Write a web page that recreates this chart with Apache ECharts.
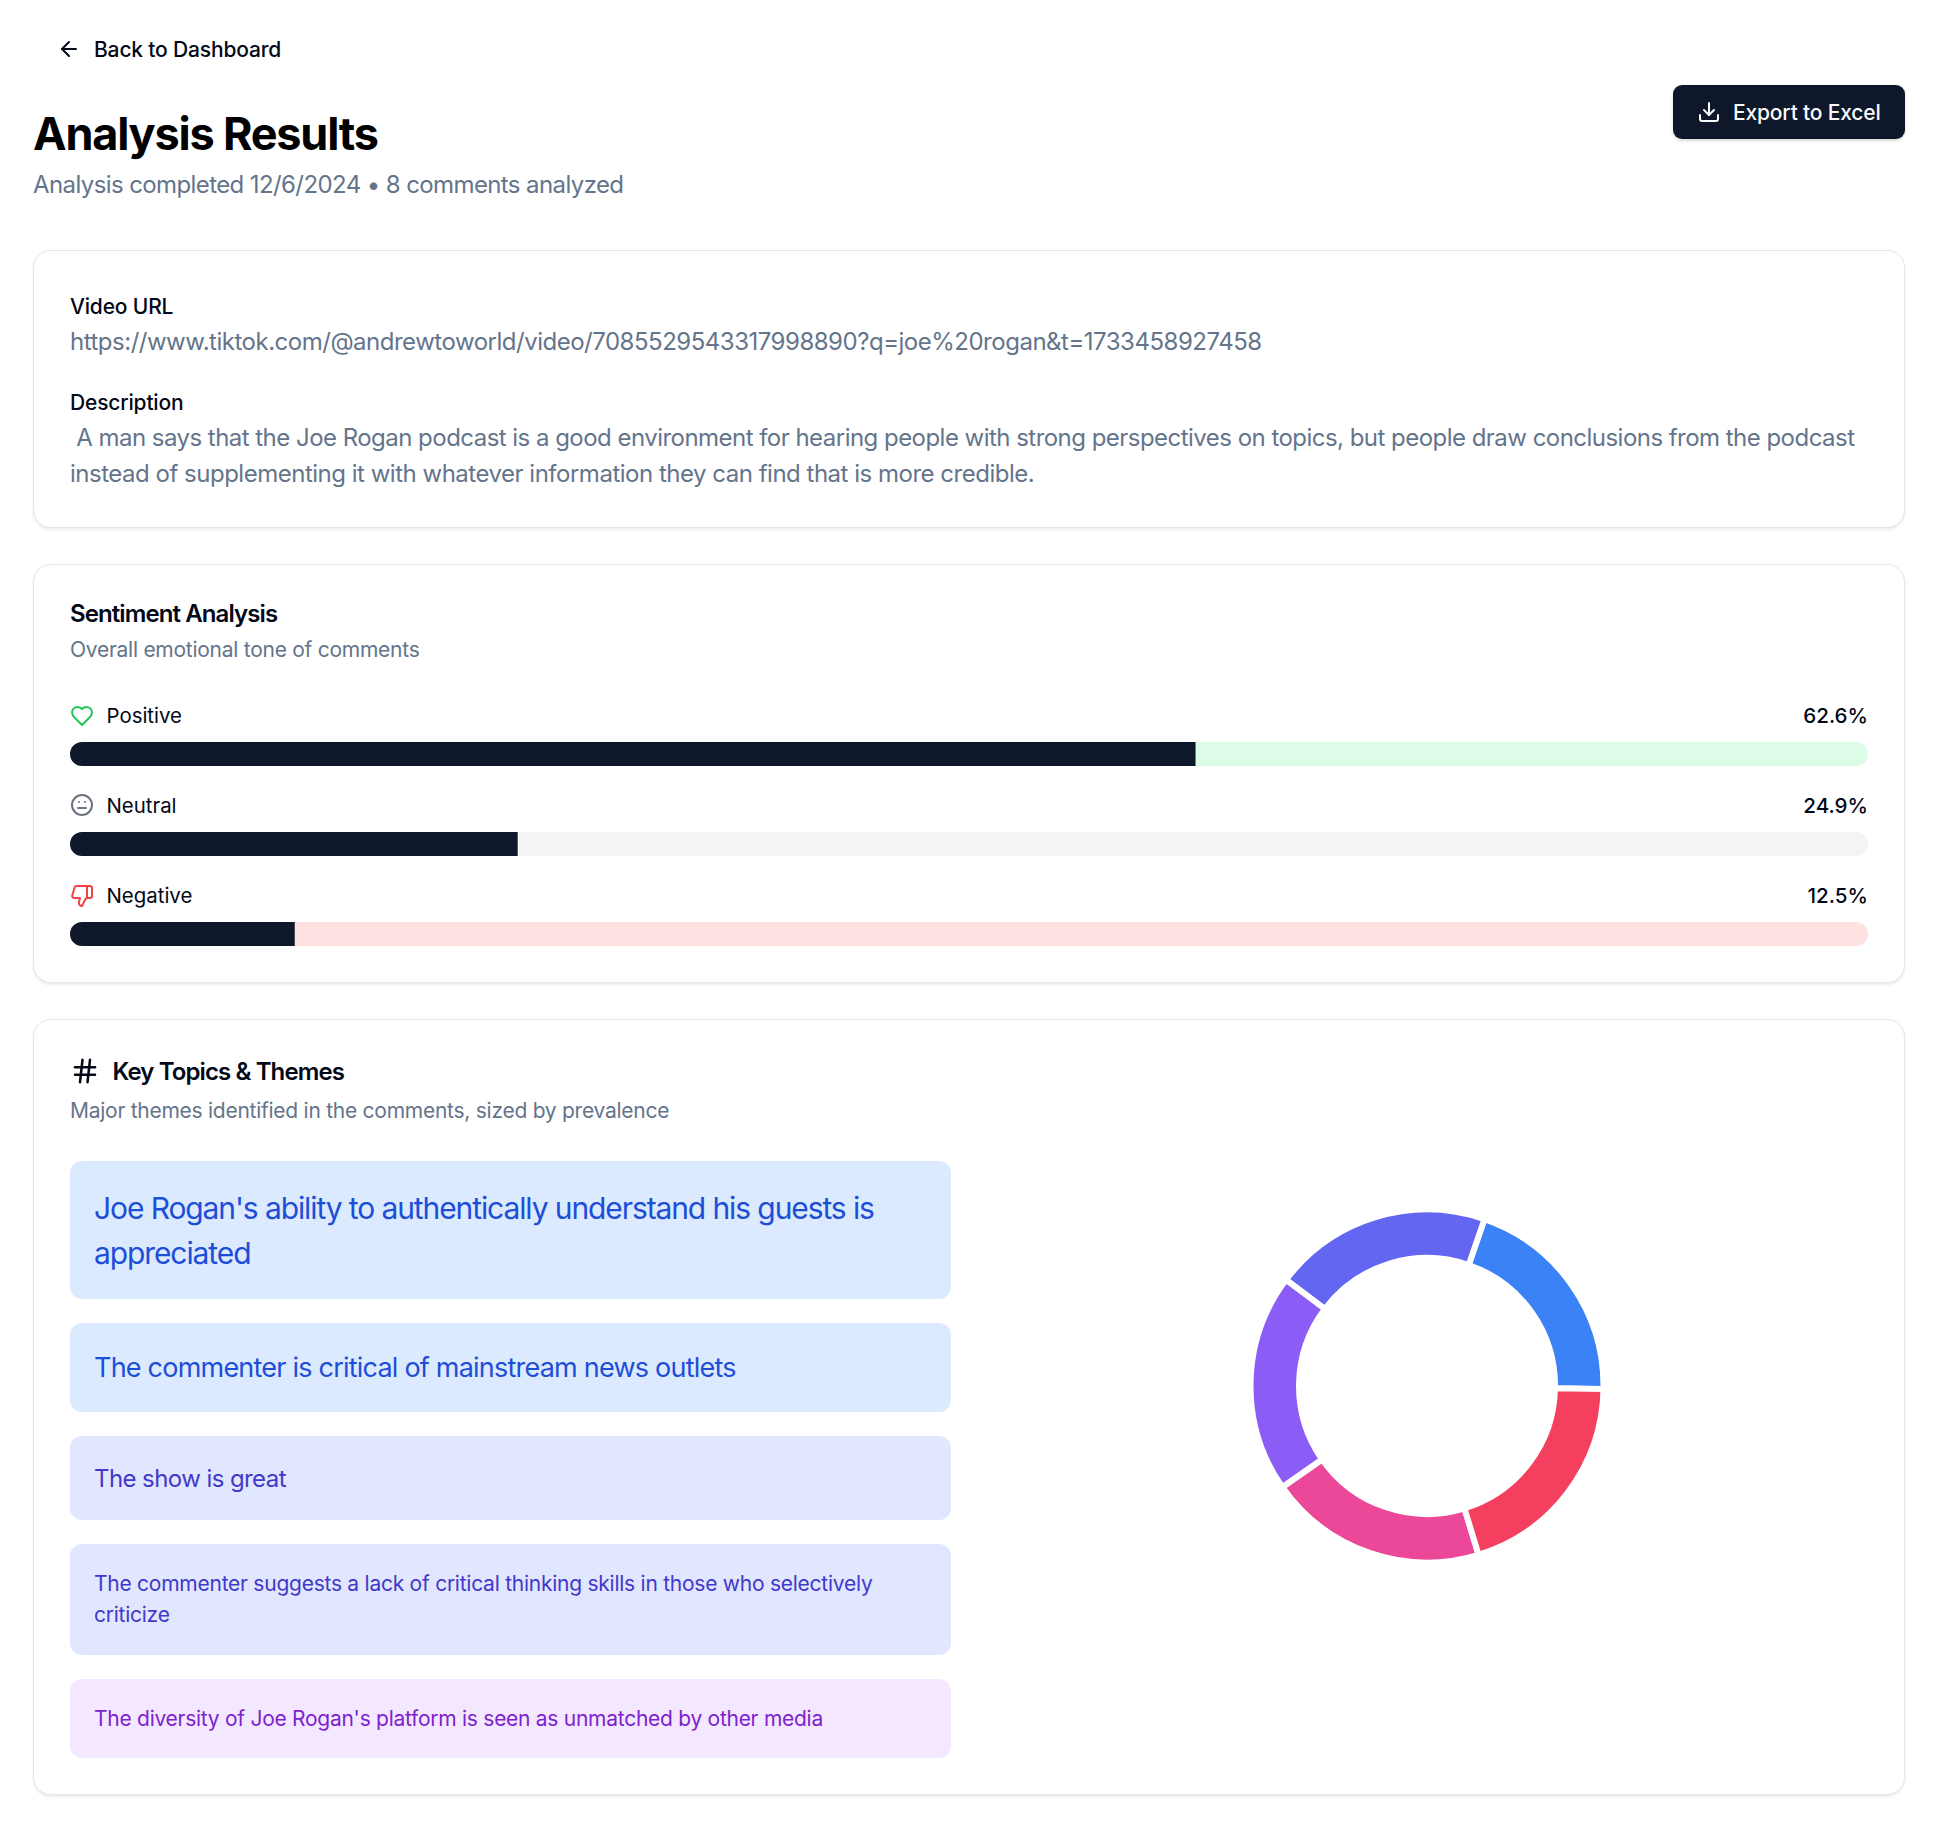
<!DOCTYPE html>
<html>
<head>
<meta charset="utf-8">
<title>Analysis Results</title>
<script src="https://cdn.jsdelivr.net/npm/echarts@6/dist/echarts.min.js"></script>
<style>
  html, body { margin: 0; background: #fff; }
  body { position: relative; width: 1938px; height: 1822px; overflow: hidden; font-family: Inter, sans-serif; color: #020817; }
  .t { position: absolute; white-space: pre; }
  .muted { color: #64748b; }
  .card { position: absolute; left: 33px; width: 1872px; box-sizing: border-box; background: #fff; border: 1.5px solid #e2e8f0; border-radius: 18px; box-shadow: 0 1.5px 3px rgba(0,0,0,.08); }
  .heading { font-size: 24px; line-height: 36px; font-weight: 600; letter-spacing: -0.9px; }
  .small { font-size: 21px; line-height: 32px; letter-spacing: -0.26px; }
  .label { font-size: 21px; line-height: 32px; font-weight: 500; letter-spacing: -0.17px; }
  .body { font-size: 24px; line-height: 36px; letter-spacing: -0.49px; }
  .icon { position: absolute; fill: none; stroke-linecap: round; stroke-linejoin: round; }
  .topic { position: absolute; left: 70px; width: 881px; border-radius: 12px; }
  #button { position: absolute; left: 1673px; top: 85px; width: 232px; height: 54px; background: #0f172a; border-radius: 9px; box-shadow: 0 1.5px 3px rgba(0,0,0,.15); }
  #bars { position: absolute; left: 70px; top: 680px; width: 1798px; height: 300px; }
  #donut { position: absolute; left: 1227px; top: 1186px; width: 400px; height: 400px; }
</style>
</head>
<body>
<svg class="icon" style="left:56.5px;top:37px" width="24" height="24" viewBox="0 0 24 24" stroke="#020817" stroke-width="2"><path d="m12 19-7-7 7-7"/><path d="M19 12H5"/></svg>
<div class="t label" style="left:94px;top:34px">Back to Dashboard</div>

<div class="t" style="left:33px;top:107px;font-size:45px;line-height:54px;font-weight:700;letter-spacing:-1.2px;color:#000">Analysis Results</div>
<div class="t body muted" style="left:33px;top:167px;letter-spacing:-0.6px">Analysis completed 12/6/2024 • 8 comments analyzed</div>

<div id="button"></div>
<svg class="icon" style="left:1697px;top:100px" width="24" height="24" viewBox="0 0 24 24" stroke="#f8fafc" stroke-width="2"><path d="M21 15v4a2 2 0 0 1-2 2H5a2 2 0 0 1-2-2v-4"/><path d="m7 10 5 5 5-5"/><path d="M12 15V3"/></svg>
<div class="t label" style="left:1733px;top:97px;color:#f8fafc">Export to Excel</div>

<div class="card" style="top:250px;height:277.5px"></div>
<div class="t label" style="left:70px;top:291px">Video URL</div>
<div class="t body muted" style="left:70px;top:324px">https://www.tiktok.com/@andrewtoworld/video/7085529543317998890?q=joe%20rogan&amp;t=1733458927458</div>
<div class="t label" style="left:70px;top:387px">Description</div>
<div class="t body muted" style="left:70px;top:420px;letter-spacing:-0.53px"> A man says that the Joe Rogan podcast is a good environment for hearing people with strong perspectives on topics, but people draw conclusions from the podcast</div>
<div class="t body muted" style="left:70px;top:456px">instead of supplementing it with whatever information they can find that is more credible.</div>

<div class="card" style="top:564px;height:418.5px"></div>
<div class="t heading" style="left:70px;top:596px">Sentiment Analysis</div>
<div class="t small muted" style="left:70px;top:634px">Overall emotional tone of comments</div>
<div id="bars"></div>
<svg class="icon" style="left:70px;top:704px" width="24" height="24" viewBox="0 0 24 24" stroke="#22c55e" stroke-width="2"><path d="M19 14c1.49-1.46 3-3.21 3-5.5A5.5 5.5 0 0 0 16.5 3c-1.76 0-3 .5-4.5 2-1.5-1.5-2.74-2-4.5-2A5.5 5.5 0 0 0 2 8.5c0 2.3 1.5 4.05 3 5.5l7 7Z"/></svg>
<svg class="icon" style="left:70px;top:793px" width="24" height="24" viewBox="0 0 24 24" stroke="#6b7280" stroke-width="2"><circle cx="12" cy="12" r="10"/><line x1="8" x2="16" y1="15" y2="15"/><line x1="9" x2="9.01" y1="9" y2="9"/><line x1="15" x2="15.01" y1="9" y2="9"/></svg>
<svg class="icon" style="left:70px;top:884px" width="24" height="24" viewBox="0 0 24 24" stroke="#ef4444" stroke-width="2"><path d="M17 14V2"/><path d="M9 18.12 10 14H4.17a2 2 0 0 1-1.92-2.56l2.33-8A2 2 0 0 1 6.5 2H20a2 2 0 0 1 2 2v8a2 2 0 0 1-2 2h-2.76a2 2 0 0 0-1.79 1.11L12 22a3.13 3.13 0 0 1-3-3.88Z"/></svg>

<div class="card" style="top:1019px;height:775.5px"></div>
<svg class="icon" style="left:70px;top:1056px" width="30" height="30" viewBox="0 0 24 24" stroke="#020817" stroke-width="2"><line x1="4" x2="20" y1="9" y2="9"/><line x1="4" x2="20" y1="15" y2="15"/><line x1="10" x2="8" y1="3" y2="21"/><line x1="16" x2="14" y1="3" y2="21"/></svg>
<div class="t heading" style="left:112.5px;top:1053.5px">Key Topics &amp; Themes</div>
<div class="t small muted" style="left:70px;top:1095px">Major themes identified in the comments, sized by prevalence</div>
<div id="topics"></div>
<div id="donut"></div>

<script>
// sentiment bars
const sentimentNames = ['Positive', 'Neutral', 'Negative'];
const sentimentValues = [62.6, 24.9, 12.5];
const sentimentTracks = ['#dcfce7', '#f3f4f6', '#fee2e2'];

// key topics, donut slices follow the same order
const topicNames = [
    "Joe Rogan's ability to authentically understand his guests is\nappreciated",
    'The commenter is critical of mainstream news outlets',
    'The show is great',
    'The commenter suggests a lack of critical thinking skills in those who selectively\ncriticize',
    "The diversity of Joe Rogan's platform is seen as unmatched by other media"
];
const topicShares = [1, 1, 1, 1, 1];
const sliceColors = ['#3b82f6', '#6366f1', '#8b5cf6', '#ec4899', '#f43f5e'];

const topicBoxes = [
    { top: 1161, height: 138, size: 30, lh: 45, track: -1.1, nudge: 1, bg: '#dbeafe', color: '#1d4ed8' },
    { top: 1323, height: 89, size: 27, lh: 42, track: -0.78, nudge: 0.5, bg: '#dbeafe', color: '#1d4ed8' },
    { top: 1436, height: 84, size: 24, lh: 36, track: -0.58, nudge: 1, bg: '#e0e7ff', color: '#4338ca' },
    { top: 1544, height: 111, size: 21, lh: 31, track: -0.25, nudge: -0.5, bg: '#e0e7ff', color: '#4338ca' },
    { top: 1679, height: 79, size: 21, lh: 31.5, track: -0.27, nudge: 0, bg: '#f3e8ff', color: '#7e22ce' }
];

const topicsEl = document.getElementById('topics');
topicNames.forEach(function (name, i) {
    const b = topicBoxes[i];
    const box = document.createElement('div');
    box.className = 'topic';
    box.style.cssText = `top:${b.top}px;height:${b.height}px;background:${b.bg}`;
    const text = document.createElement('div');
    text.className = 't';
    text.textContent = name;
    const lines = name.split('\n').length;
    text.style.cssText = `left:24px;top:${(b.height - lines * b.lh) / 2 + b.nudge}px;font-size:${b.size}px;line-height:${b.lh}px;letter-spacing:${b.track}px;color:${b.color}`;
    box.appendChild(text);
    topicsEl.appendChild(box);
});

const font = 'Inter, sans-serif';

const bars = echarts.init(document.getElementById('bars'), null, { renderer: 'svg' });
bars.setOption({
    animation: false,
    grid: { left: 0, right: 0, top: 29, height: 270 },
    xAxis: { type: 'value', min: 0, max: 100, show: false },
    yAxis: { type: 'category', inverse: true, data: sentimentNames, show: false },
    series: [
        {
            name: 'track',
            type: 'bar',
            barWidth: 24,
            barGap: '-100%',
            silent: true,
            itemStyle: { borderRadius: 12 },
            label: {
                show: true,
                position: 'insideLeft',
                offset: [31.5, -39],
                fontFamily: font,
                fontSize: 20.4,
                color: '#020817',
                formatter: '{b}'
            },
            data: sentimentTracks.map(function (c) {
                return { value: 100, itemStyle: { color: c } };
            })
        },
        {
            name: 'share',
            type: 'bar',
            barWidth: 24,
            silent: true,
            itemStyle: { color: '#0f172a', borderRadius: [12, 0, 0, 12] },
            data: sentimentValues
        },
        {
            // invisible full width bar, only carries the percent on the right
            name: 'percent',
            type: 'bar',
            barWidth: 24,
            silent: true,
            itemStyle: { color: 'transparent' },
            label: {
                show: true,
                position: 'insideRight',
                offset: [5, -39],
                fontFamily: font,
                fontSize: 20.6,
                fontWeight: 500,
                color: '#020817',
                formatter: function (p) {
                    return sentimentValues[p.dataIndex].toFixed(1) + '%';
                }
            },
            data: sentimentValues.map(function () { return 100; })
        }
    ]
});

const donut = echarts.init(document.getElementById('donut'), null, { renderer: 'svg' });
donut.setOption({
    animation: false,
    color: sliceColors,
    series: [
        {
            type: 'pie',
            center: [200, 200],
            radius: [128, 176.5],
            startAngle: 359,
            clockwise: false,
            silent: true,
            label: { show: false },
            labelLine: { show: false },
            itemStyle: { borderColor: '#fff', borderWidth: 6, borderJoin: 'miter' },
            data: topicNames.map(function (name, i) {
                return { name: name, value: topicShares[i] };
            })
        }
    ]
});
</script>
</body>
</html>
